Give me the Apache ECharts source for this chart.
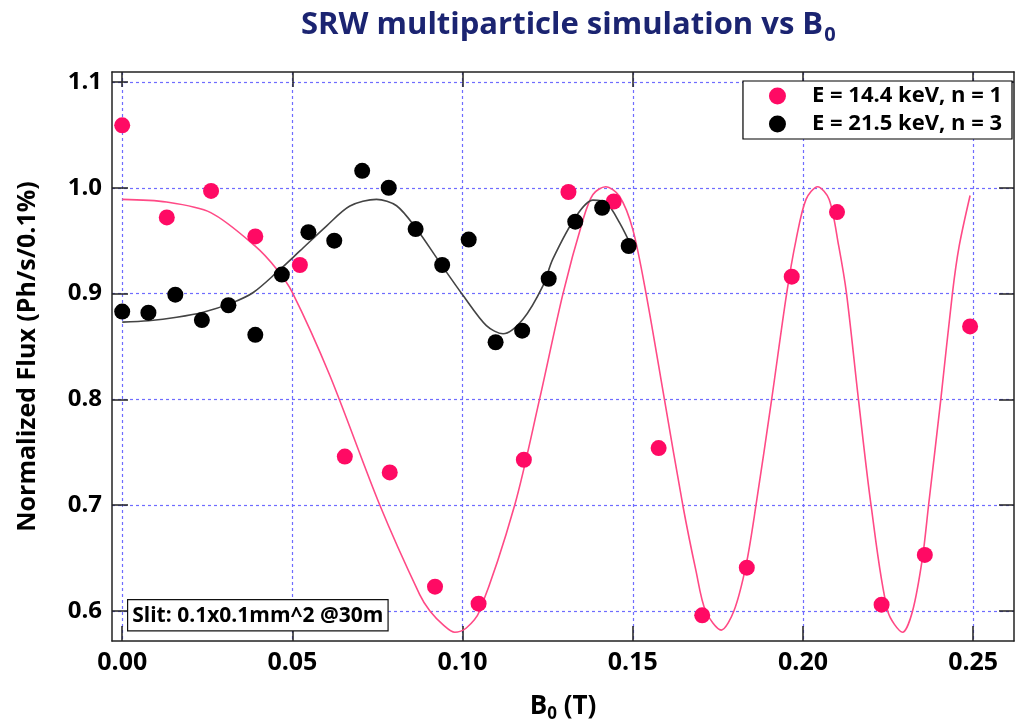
<!DOCTYPE html>
<html>
<head>
<meta charset="utf-8">
<script src="https://cdn.jsdelivr.net/npm/echarts@6/dist/echarts.min.js"></script>
<style>html,body{margin:0;padding:0;background:#fff;}#main{width:1016px;height:728px;}</style>
</head>
<body>
<div id="main"></div>
<script>
// ---- Data ----
const pinkX = [0.000, 0.0131, 0.0261, 0.0391, 0.0522, 0.0654, 0.0786, 0.0919, 0.1047, 0.1180, 0.1311, 0.1444, 0.1576, 0.1704, 0.1835, 0.1967, 0.2100, 0.2231, 0.2358, 0.2491];
const pinkY = [1.059, 0.972, 0.997, 0.954, 0.927, 0.746, 0.731, 0.623, 0.607, 0.743, 0.996, 0.987, 0.754, 0.596, 0.641, 0.916, 0.977, 0.606, 0.653, 0.869];
const blackX = [0.000, 0.0077, 0.0156, 0.0234, 0.0312, 0.0391, 0.0469, 0.0547, 0.0623, 0.0705, 0.0783, 0.0862, 0.0940, 0.1018, 0.1097, 0.1175, 0.1253, 0.1331, 0.1410, 0.1488];
const blackY = [0.883, 0.882, 0.899, 0.875, 0.889, 0.861, 0.918, 0.958, 0.950, 1.016, 1.000, 0.961, 0.927, 0.951, 0.854, 0.865, 0.914, 0.968, 0.981, 0.945];
// fitted curves
const pinkFitX = [0.000, 0.013, 0.026, 0.039, 0.0454, 0.050, 0.061, 0.0757, 0.0874, 0.0904, 0.0943, 0.0977, 0.1011, 0.105, 0.1153, 0.1226, 0.1295, 0.1354, 0.1383, 0.142, 0.1461, 0.150, 0.1539, 0.1593, 0.1647, 0.1686, 0.1714, 0.176, 0.1797, 0.1833, 0.1862, 0.1908, 0.1952, 0.1980, 0.2009, 0.2043, 0.2077, 0.2105, 0.2128, 0.2163, 0.2200, 0.2249, 0.2293, 0.2322, 0.2351, 0.2369, 0.2405, 0.2439, 0.2459, 0.2491];
const pinkFitY = [0.989, 0.9865, 0.9765, 0.945, 0.923, 0.901, 0.8226, 0.700, 0.6155, 0.600, 0.587, 0.580, 0.584, 0.600, 0.700, 0.800, 0.900, 0.970, 0.9937, 1.001, 0.992, 0.9607, 0.900, 0.800, 0.700, 0.6375, 0.600, 0.582, 0.600, 0.6437, 0.700, 0.800, 0.900, 0.9513, 0.989, 1.001, 0.989, 0.945, 0.900, 0.800, 0.700, 0.600, 0.580, 0.600, 0.650, 0.700, 0.800, 0.900, 0.945, 0.9927];
const blackFitX = [0.000, 0.0077, 0.016, 0.0238, 0.0326, 0.0385, 0.0454, 0.0522, 0.060, 0.0669, 0.0747, 0.0806, 0.0865, 0.0933, 0.1002, 0.107, 0.1119, 0.1178, 0.1236, 0.1265, 0.1334, 0.1383, 0.1422, 0.1461, 0.150];
const blackFitY = [0.873, 0.8744, 0.8776, 0.8823, 0.8917, 0.901, 0.920, 0.9403, 0.9638, 0.9827, 0.989, 0.983, 0.961, 0.9294, 0.898, 0.8697, 0.862, 0.876, 0.9073, 0.9325, 0.9733, 0.9883, 0.9859, 0.967, 0.942];
const xTicks = [0, 0.05, 0.10, 0.15, 0.20, 0.25];
const yTicks = [0.6, 0.7, 0.8, 0.9, 1.0, 1.1];
const seriesNames = ['E = 14.4 keV, n = 1', 'E = 21.5 keV, n = 3'];

const zip = (a, b) => a.map((v, i) => [v, b[i]]);
const FONT = 'Open Sans';
const pink = '#FF0A64';
const gridLine = { show: true, lineStyle: { color: '#6f6cff', type: [3, 3], width: 1.2 } };

const chart = echarts.init(document.getElementById('main'), null, { renderer: 'canvas' });
const option = {
  backgroundColor: '#fff',
  animation: false,
  title: {
    text: '{a|SRW multiparticle simulation vs B}{s|0}',
    left: 296, top: 0,
    textStyle: {
      rich: {
        a: { fontFamily: FONT, fontWeight: 'bold', fontSize: 31, color: '#1B2471' },
        s: { fontFamily: FONT, fontWeight: 'bold', fontSize: 20, color: '#1B2471', padding: [20, 0, 0, 1] }
      }
    }
  },
  legend: {
    data: seriesNames,
    orient: 'vertical',
    right: 4, top: 81,
    padding: [4, 10, 4, 26],
    itemGap: 6,
    itemWidth: 17, itemHeight: 17,
    backgroundColor: '#fff',
    borderColor: '#000', borderWidth: 1.2,
    textStyle: { fontFamily: FONT, fontWeight: 'bold', fontSize: 22, color: '#000', padding: [0, 0, 0, 21] }
  },
  grid: { left: 112, top: 72, right: 2, bottom: 85, containLabel: false },
  xAxis: [{
    type: 'value', min: -0.003, max: 0.262, position: 'bottom',
    name: '{a|B}{s|0}{a| (T)}', nameLocation: 'middle', nameGap: 50,
    nameTextStyle: { rich: {
      a: { fontFamily: FONT, fontWeight: 'bold', fontSize: 26, color: '#000' },
      s: { fontFamily: FONT, fontWeight: 'bold', fontSize: 17, color: '#000', padding: [15, 0, 0, 0] }
    } },
    axisLine: { show: true, onZero: false, lineStyle: { color: '#222', width: 1.5 } },
    axisTick: { show: true, inside: true, length: 15, customValues: xTicks, lineStyle: { color: '#222', width: 1.5 } },
    axisLabel: { customValues: xTicks, formatter: v => v.toFixed(2), fontFamily: FONT, fontWeight: 'bold', fontSize: 25, color: '#000', margin: 9 },
    splitLine: gridLine
  }, {
    type: 'value', min: -0.003, max: 0.262, position: 'top',
    axisLine: { show: true, onZero: false, lineStyle: { color: '#222', width: 1.5 } },
    axisTick: { show: true, inside: true, length: 15, customValues: xTicks, lineStyle: { color: '#222', width: 1.5 } },
    axisLabel: { show: false, customValues: xTicks },
    splitLine: { show: false }
  }],
  yAxis: [{
    type: 'value', min: 0.5717, max: 1.1094, position: 'left',
    name: 'Normalized Flux (Ph/s/0.1%)', nameLocation: 'middle', nameGap: 72, nameRotate: 90,
    nameTextStyle: { fontFamily: FONT, fontWeight: 'bold', fontSize: 25, color: '#000' },
    axisLine: { show: true, onZero: false, lineStyle: { color: '#222', width: 1.5 } },
    axisTick: { show: true, inside: true, length: 16, customValues: yTicks, lineStyle: { color: '#222', width: 1.5 } },
    axisLabel: { customValues: yTicks, formatter: v => v.toFixed(1), fontFamily: FONT, fontWeight: 'bold', fontSize: 24, color: '#000', margin: 10 },
    splitLine: gridLine
  }, {
    type: 'value', min: 0.5717, max: 1.1094, position: 'right',
    axisLine: { show: true, onZero: false, lineStyle: { color: '#222', width: 1.5 } },
    axisTick: { show: true, inside: true, length: 15, customValues: yTicks, lineStyle: { color: '#222', width: 1.5 } },
    axisLabel: { show: false, customValues: yTicks },
    splitLine: { show: false }
  }],
  graphic: [{
    type: 'text', left: 127, top: 599, z: 100,
    style: {
      text: 'Slit: 0.1x0.1mm^2 @30m',
      fontFamily: FONT, fontWeight: 'bold', fontSize: 21, fill: '#000',
      backgroundColor: '#fff', borderColor: '#111', borderWidth: 1.2,
      padding: [5, 4, 4, 4]
    }
  }],
  series: [
    { name: 'fit1', type: 'line', data: zip(pinkFitX, pinkFitY), smooth: 0.3, showSymbol: false, lineStyle: { color: '#FF4A86', width: 1.6 }, z: 2, silent: true },
    { name: 'fit3', type: 'line', data: zip(blackFitX, blackFitY), smooth: 0.3, showSymbol: false, lineStyle: { color: '#444', width: 1.6 }, z: 2, silent: true },
    { name: seriesNames[0], type: 'scatter', data: zip(pinkX, pinkY), symbolSize: 16, itemStyle: { color: pink, opacity: 1 }, z: 3, clip: false },
    { name: seriesNames[1], type: 'scatter', data: zip(blackX, blackY), symbolSize: 16, itemStyle: { color: '#000', opacity: 1 }, z: 3, clip: false }
  ]
};
chart.setOption(option);
</script>
</body>
</html>
